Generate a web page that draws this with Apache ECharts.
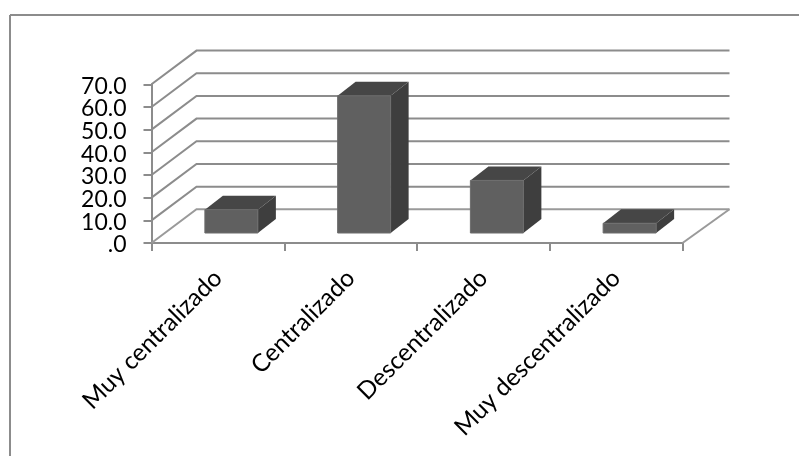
<!DOCTYPE html>
<html>
<head>
<meta charset="utf-8">
<style>html,body{margin:0;padding:0;background:#fff}#chart{width:799px;height:456px}</style>
<script src="https://cdn.jsdelivr.net/npm/echarts@6/dist/echarts.min.js"></script>
</head>
<body>
<div id="chart"></div>
<script>
// Grado de centralización: columnas con efecto 3D dibujadas sobre ejes normales.
const categories = ['Muy centralizado', 'Centralizado', 'Descentralizado', 'Muy descentralizado'];
const values = [10.3, 60.5, 23.2, 4.3];
const tickValues = [0, 10, 20, 30, 40, 50, 60, 70];
const tickLabels = ['.0', '10.0', '20.0', '30.0', '40.0', '50.0', '60.0', '70.0'];

// Proyección de la profundidad del gráfico
const WALL_DX = 45, WALL_DY = -33.7;
const BAR_SHIFT_X = 13.5, BAR_SHIFT_Y = -10;
const BAR_DX = 18, BAR_DY = -14;
const BAR_WIDTH = 53;
const LINE = '#8c8c8c';
const FONT = 'Lato, "Open Sans", sans-serif';

const chart = echarts.init(document.getElementById('chart'));

// Pared izquierda, pared del fondo y etiqueta de cada marca del eje de valores.
// Las etiquetas van aquí porque el eje oculta las que quedan muy juntas.
function renderWall(params, api) {
  const p = api.coord([0, api.value(0)]);
  const left = params.coordSys.x;
  const right = left + params.coordSys.width;
  const y = p[1];
  const isFloor = api.value(0) === 0;
  const children = [{
    type: 'polyline',
    shape: { points: [[left, y], [left + WALL_DX, y + WALL_DY], [right + WALL_DX + 2, y + WALL_DY]] },
    style: { fill: null, stroke: isFloor ? '#9a9a9a' : LINE, lineWidth: 2 }
  }, {
    type: 'text',
    x: left - 25,
    y: y + 2,
    style: {
      text: tickLabels[params.dataIndex],
      fill: '#000',
      font: '23px ' + FONT,
      align: 'right',
      verticalAlign: 'middle'
    }
  }];
  if (isFloor) {
    children.push({
      type: 'line',
      shape: { x1: right, y1: y, x2: right + WALL_DX + 2, y2: y + WALL_DY },
      style: { stroke: '#9a9a9a', lineWidth: 2 }
    });
  }
  return { type: 'group', children };
}

function renderBar(params, api) {
  const base = api.coord([api.value(0), 0]);
  const top = api.coord([api.value(0), api.value(1)]);
  const x0 = base[0] - BAR_WIDTH / 2 + BAR_SHIFT_X;
  const x1 = x0 + BAR_WIDTH;
  const yb = base[1] + BAR_SHIFT_Y;
  const yt = top[1] + BAR_SHIFT_Y;
  return {
    type: 'group',
    children: [
      { type: 'polygon',
        shape: { points: [[x1, yt], [x1 + BAR_DX, yt + BAR_DY], [x1 + BAR_DX, yb + BAR_DY], [x1, yb]] },
        style: { fill: '#3e3e3e' } },
      { type: 'polygon',
        shape: { points: [[x0, yt], [x0 + BAR_DX, yt + BAR_DY], [x1 + BAR_DX, yt + BAR_DY], [x1, yt]] },
        style: { fill: '#464646' } },
      { type: 'rect',
        shape: { x: x0, y: yt, width: BAR_WIDTH, height: yb - yt },
        style: { fill: '#606060', stroke: '#6c6c6c', lineWidth: 1 } }
    ]
  };
}

chart.setOption({
  animation: false,
  backgroundColor: '#fff',
  textStyle: { fontFamily: FONT },
  graphic: [
    { type: 'line', shape: { x1: 10, y1: 15, x2: 799, y2: 15 }, style: { stroke: '#8c8c8c', lineWidth: 2 } },
    { type: 'line', shape: { x1: 10, y1: 15, x2: 10, y2: 456 }, style: { stroke: '#8c8c8c', lineWidth: 2 } }
  ],
  grid: { left: 151.5, top: 84.3, width: 531, height: 158.7, containLabel: false },
  xAxis: {
    type: 'category',
    data: categories,
    boundaryGap: true,
    axisLine: { lineStyle: { color: LINE, width: 2 } },
    axisTick: { show: true, alignWithLabel: false, length: 8, lineStyle: { color: LINE, width: 2 } },
    axisLabel: { interval: 0, rotate: 45, fontSize: 24.5, color: '#000', margin: 31, hideOverlap: false }
  },
  yAxis: {
    type: 'value',
    min: 0,
    max: 70,
    interval: 10,
    splitLine: { show: false },
    axisLine: { show: true, lineStyle: { color: LINE, width: 2 } },
    axisTick: { show: true, length: 8, lineStyle: { color: LINE, width: 2 } },
    axisLabel: { show: false }
  },
  series: [
    { type: 'custom', renderItem: renderWall, data: tickValues.map(v => [v]),
      encode: { y: 0 }, silent: true, z: 1, clip: false },
    { type: 'custom', renderItem: renderBar, data: values.map((v, i) => [i, v]),
      encode: { x: 0, y: 1 }, silent: true, z: 2, clip: false }
  ]
});
</script>
</body>
</html>
